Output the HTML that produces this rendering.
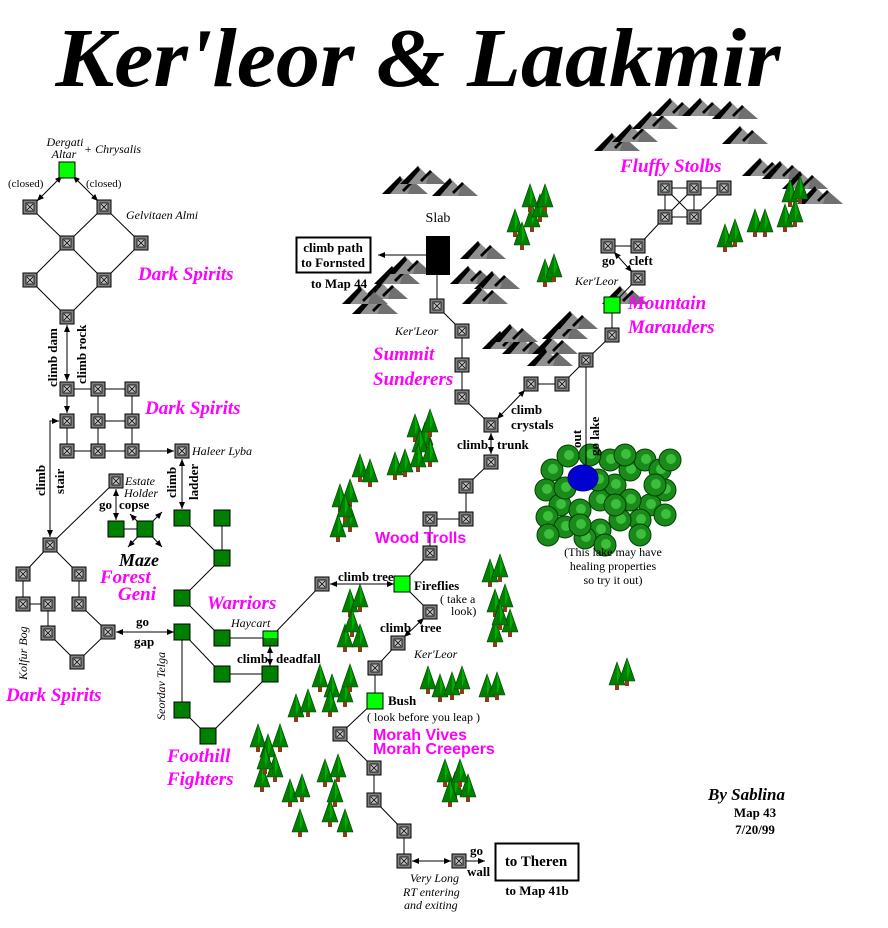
<!DOCTYPE html>
<html><head><meta charset="utf-8"><style>
html,body{margin:0;padding:0;background:#fff;}
svg{display:block;}
text{font-family:"Liberation Serif",serif;}
.b{font-weight:bold;font-size:13px;}
.i{font-style:italic;font-size:12px;}
.p{fill:#ff00ff;font-weight:bold;font-style:italic;font-size:19px;}
.pl{fill:#ff00ff;font-weight:bold;font-size:16px;font-family:"Liberation Sans",sans-serif;}
line,polyline{stroke:#000;stroke-width:1;fill:none;}
</style></head><body>
<svg width="888" height="928" viewBox="0 0 888 928" xmlns="http://www.w3.org/2000/svg">
<defs>
<marker id="a" markerWidth="8" markerHeight="8" refX="7" refY="4" orient="auto-start-reverse" markerUnits="userSpaceOnUse"><path d="M0,1 L7,4 L0,7 z" fill="#000"/></marker>
<g id="n"><rect x="-7" y="-7" width="14" height="14" fill="#808080" stroke="#000"/><rect x="-4" y="-4" width="8" height="8" fill="#c0c0c0" stroke="#000" stroke-width="0.8"/><path d="M-3,-3L3,3M3,-3L-3,3" stroke="#000" stroke-width="0.8"/></g>
<g id="g"><rect x="-8" y="-8" width="16" height="16" fill="#008000" stroke="#000"/></g>
<g id="G"><rect x="-8" y="-8" width="16" height="16" fill="#00ff00" stroke="#000"/></g>
<g id="t"><polygon points="0,-16 8,7 -8,7" fill="#008000" stroke="#004000" stroke-width="0.6"/><polygon points="0,-16 3,-3 0,5" fill="#00b000"/><rect x="-2" y="7" width="4" height="5" fill="#8b3a1a"/></g>
<g id="m"><polygon points="0,-14 18,4 -18,4" fill="#909090"/><polygon points="0,-14 -18,4 -10,4 2,-10" fill="#000"/><polygon points="12,-10 28,4 8,4" fill="#707070"/><polygon points="12,-10 2,0 4,2 14,-8" fill="#000"/></g>
<g id="bu"><circle r="11" fill="#1a8a1a" stroke="#004000"/><circle r="5" cx="1" cy="-1" fill="#3cc03c"/></g>
</defs>

<text x="418" y="86" text-anchor="middle" font-size="84" font-weight="bold" font-style="italic" textLength="725" lengthAdjust="spacingAndGlyphs">Ker'leor &amp; Laakmir</text>

<g>
<use href="#m" x="400" y="190"/><use href="#m" x="418" y="180"/><use href="#m" x="450" y="192"/>
<use href="#m" x="380" y="295"/><use href="#m" x="392" y="280"/><use href="#m" x="405" y="270"/><use href="#m" x="370" y="310"/><use href="#m" x="360" y="300"/>
<use href="#m" x="478" y="255"/><use href="#m" x="468" y="280"/><use href="#m" x="492" y="285"/><use href="#m" x="480" y="300"/>
<use href="#m" x="500" y="345"/><use href="#m" x="520" y="350"/><use href="#m" x="510" y="338"/>
<use href="#m" x="550" y="350"/><use href="#m" x="560" y="335"/><use href="#m" x="570" y="325"/><use href="#m" x="545" y="362"/>
<use href="#m" x="612" y="147"/><use href="#m" x="630" y="138"/><use href="#m" x="650" y="125"/>
<use href="#m" x="670" y="112"/><use href="#m" x="700" y="112"/><use href="#m" x="730" y="115"/>
<use href="#m" x="740" y="140"/>
<use href="#m" x="760" y="172"/><use href="#m" x="780" y="175"/><use href="#m" x="800" y="185"/><use href="#m" x="815" y="200"/>
<use href="#m" x="620" y="300"/>
</g>

<g>
<use href="#t" x="515" y="225"/><use href="#t" x="522" y="238"/><use href="#t" x="532" y="220"/><use href="#t" x="540" y="210"/><use href="#t" x="530" y="200"/><use href="#t" x="545" y="200"/>
<use href="#t" x="545" y="275"/><use href="#t" x="554" y="270"/>
<use href="#t" x="415" y="430"/><use href="#t" x="425" y="438"/><use href="#t" x="430" y="425"/><use href="#t" x="420" y="445"/>
<use href="#t" x="360" y="470"/><use href="#t" x="370" y="475"/><use href="#t" x="395" y="468"/><use href="#t" x="405" y="465"/><use href="#t" x="418" y="460"/><use href="#t" x="430" y="455"/>
<use href="#t" x="340" y="500"/><use href="#t" x="350" y="495"/><use href="#t" x="338" y="530"/><use href="#t" x="350" y="520"/><use href="#t" x="345" y="510"/>
<use href="#t" x="490" y="575"/><use href="#t" x="500" y="570"/><use href="#t" x="495" y="605"/><use href="#t" x="505" y="600"/><use href="#t" x="495" y="635"/><use href="#t" x="510" y="625"/><use href="#t" x="500" y="618"/>
<use href="#t" x="350" y="605"/><use href="#t" x="360" y="600"/><use href="#t" x="345" y="640"/><use href="#t" x="360" y="640"/><use href="#t" x="352" y="625"/>
<use href="#t" x="320" y="680"/><use href="#t" x="332" y="690"/><use href="#t" x="345" y="695"/><use href="#t" x="330" y="705"/><use href="#t" x="350" y="680"/>
<use href="#t" x="296" y="710"/><use href="#t" x="308" y="705"/>
<use href="#t" x="258" y="740"/><use href="#t" x="268" y="750"/><use href="#t" x="280" y="740"/><use href="#t" x="262" y="780"/><use href="#t" x="275" y="770"/><use href="#t" x="290" y="795"/><use href="#t" x="302" y="790"/><use href="#t" x="265" y="762"/>
<use href="#t" x="300" y="825"/><use href="#t" x="325" y="775"/><use href="#t" x="338" y="770"/><use href="#t" x="330" y="815"/><use href="#t" x="345" y="825"/><use href="#t" x="335" y="795"/>
<use href="#t" x="428" y="682"/><use href="#t" x="440" y="690"/><use href="#t" x="452" y="688"/><use href="#t" x="462" y="682"/>
<use href="#t" x="487" y="690"/><use href="#t" x="497" y="688"/>
<use href="#t" x="445" y="775"/><use href="#t" x="455" y="788"/><use href="#t" x="468" y="790"/><use href="#t" x="460" y="775"/><use href="#t" x="450" y="795"/>
<use href="#t" x="617" y="678"/><use href="#t" x="627" y="674"/>
<use href="#t" x="725" y="240"/><use href="#t" x="735" y="235"/><use href="#t" x="755" y="225"/><use href="#t" x="765" y="225"/><use href="#t" x="785" y="220"/><use href="#t" x="795" y="215"/><use href="#t" x="790" y="195"/><use href="#t" x="800" y="192"/>
</g>

<g>
<use href="#bu" x="552" y="470"/><use href="#bu" x="546" y="490"/><use href="#bu" x="560" y="505"/><use href="#bu" x="547" y="517"/><use href="#bu" x="565" y="527"/>
<use href="#bu" x="580" y="510"/><use href="#bu" x="600" y="500"/><use href="#bu" x="615" y="485"/><use href="#bu" x="630" y="470"/><use href="#bu" x="645" y="460"/>
<use href="#bu" x="660" y="470"/><use href="#bu" x="665" y="490"/><use href="#bu" x="650" y="505"/><use href="#bu" x="640" y="520"/><use href="#bu" x="620" y="520"/>
<use href="#bu" x="600" y="530"/><use href="#bu" x="585" y="538"/><use href="#bu" x="568" y="456"/><use href="#bu" x="610" y="460"/><use href="#bu" x="630" y="500"/>
<use href="#bu" x="665" y="515"/><use href="#bu" x="640" y="535"/><use href="#bu" x="605" y="545"/>
<use href="#bu" x="565" y="488"/><use href="#bu" x="598" y="480"/><use href="#bu" x="625" y="455"/><use href="#bu" x="655" y="485"/><use href="#bu" x="615" y="505"/><use href="#bu" x="580" y="525"/><use href="#bu" x="548" y="535"/><use href="#bu" x="670" y="460"/><use href="#bu" x="590" y="455"/>
<ellipse cx="583" cy="478" rx="15" ry="13" fill="#0000d0" stroke="#000080"/>
</g>

<g>
<line x1="62" y1="176" x2="37" y2="201" marker-start="url(#a)" marker-end="url(#a)"/>
<line x1="73" y1="176" x2="98" y2="201" marker-start="url(#a)" marker-end="url(#a)"/>
<line x1="30" y1="207" x2="67" y2="243"/><line x1="104" y1="207" x2="67" y2="243"/><line x1="104" y1="207" x2="141" y2="243"/>
<line x1="67" y1="243" x2="30" y2="280"/><line x1="67" y1="243" x2="104" y2="280"/><line x1="141" y1="243" x2="104" y2="280"/>
<line x1="30" y1="280" x2="67" y2="317"/><line x1="104" y1="280" x2="67" y2="317"/>
<line x1="67" y1="325" x2="67" y2="381" marker-start="url(#a)" marker-end="url(#a)"/>
<line x1="67" y1="389" x2="132" y2="389"/><line x1="67" y1="389" x2="67" y2="413" marker-end="url(#a)"/>
<line x1="98" y1="389" x2="98" y2="451"/><line x1="132" y1="389" x2="132" y2="451"/><line x1="98" y1="421" x2="132" y2="421"/>
<line x1="67" y1="421" x2="67" y2="451"/><line x1="67" y1="451" x2="132" y2="451"/><line x1="132" y1="451" x2="174" y2="451" marker-end="url(#a)"/>
<polyline points="50,537 50,421 59,421" marker-end="url(#a)"/>
<line x1="50" y1="440" x2="50" y2="537" marker-end="url(#a)"/>
<line x1="182" y1="459" x2="182" y2="509" marker-start="url(#a)" marker-end="url(#a)"/>
<line x1="116" y1="481" x2="50" y2="545"/>
<line x1="116" y1="489" x2="116" y2="520" marker-start="url(#a)" marker-end="url(#a)"/>
<line x1="116" y1="529" x2="145" y2="529"/>
<line x1="145" y1="529" x2="130" y2="514" marker-end="url(#a)"/><line x1="145" y1="529" x2="162" y2="512" marker-end="url(#a)"/>
<line x1="145" y1="529" x2="128" y2="547" marker-end="url(#a)"/><line x1="145" y1="529" x2="162" y2="547" marker-end="url(#a)"/>
<line x1="50" y1="545" x2="23" y2="574"/><line x1="50" y1="545" x2="79" y2="574"/><line x1="23" y1="574" x2="23" y2="604"/>
<line x1="23" y1="604" x2="48" y2="604"/><line x1="48" y1="604" x2="48" y2="633"/><line x1="48" y1="633" x2="77" y2="662"/>
<line x1="79" y1="574" x2="79" y2="604"/><line x1="79" y1="604" x2="108" y2="632"/><line x1="108" y1="632" x2="77" y2="662"/>
<line x1="116" y1="632" x2="174" y2="632" marker-start="url(#a)" marker-end="url(#a)"/>
<line x1="182" y1="518" x2="222" y2="558"/><line x1="222" y1="518" x2="222" y2="558"/><line x1="222" y1="558" x2="182" y2="598"/>
<line x1="182" y1="598" x2="222" y2="638"/><line x1="222" y1="638" x2="270" y2="638"/><line x1="182" y1="632" x2="222" y2="674"/>
<line x1="222" y1="674" x2="270" y2="674"/><line x1="182" y1="632" x2="182" y2="710"/><line x1="182" y1="710" x2="208" y2="736"/>
<line x1="208" y1="736" x2="270" y2="674"/>
<line x1="270" y1="646" x2="270" y2="666" marker-start="url(#a)" marker-end="url(#a)"/>
<line x1="270" y1="638" x2="322" y2="584"/>
<line x1="330" y1="584" x2="394" y2="584" marker-start="url(#a)" marker-end="url(#a)"/>
<line x1="402" y1="584" x2="430" y2="612"/>
<line x1="424" y1="618" x2="404" y2="637" marker-start="url(#a)" marker-end="url(#a)"/>
<line x1="398" y1="643" x2="375" y2="668"/><line x1="375" y1="668" x2="375" y2="701"/><line x1="375" y1="701" x2="340" y2="734"/>
<line x1="340" y1="734" x2="374" y2="768"/><line x1="374" y1="768" x2="374" y2="800"/><line x1="374" y1="800" x2="404" y2="831"/>
<line x1="404" y1="831" x2="404" y2="861"/>
<line x1="412" y1="861" x2="451" y2="861" marker-start="url(#a)" marker-end="url(#a)"/>
<line x1="466" y1="861" x2="485" y2="861" marker-end="url(#a)"/>
<line x1="402" y1="584" x2="430" y2="553"/><line x1="430" y1="553" x2="430" y2="519"/><line x1="430" y1="519" x2="466" y2="519"/>
<line x1="466" y1="519" x2="466" y2="486"/><line x1="466" y1="486" x2="491" y2="462"/>
<line x1="491" y1="433" x2="491" y2="454" marker-start="url(#a)" marker-end="url(#a)"/>
<line x1="491" y1="425" x2="462" y2="397"/><line x1="462" y1="397" x2="462" y2="331"/><line x1="462" y1="331" x2="437" y2="306"/>
<line x1="437" y1="306" x2="437" y2="275"/>
<line x1="426" y1="255" x2="378" y2="255" marker-end="url(#a)"/>
<line x1="497" y1="419" x2="525" y2="390" marker-start="url(#a)" marker-end="url(#a)"/>
<line x1="531" y1="384" x2="562" y2="384"/><line x1="562" y1="384" x2="586" y2="360"/><line x1="586" y1="360" x2="612" y2="335"/>
<line x1="586" y1="360" x2="586" y2="465"/>
<line x1="612" y1="335" x2="612" y2="305"/><line x1="612" y1="305" x2="638" y2="278"/>
<line x1="632" y1="272" x2="614" y2="252" marker-start="url(#a)" marker-end="url(#a)"/>
<line x1="608" y1="246" x2="638" y2="246"/><line x1="638" y1="246" x2="665" y2="217"/>
<line x1="665" y1="188" x2="724" y2="188"/><line x1="665" y1="217" x2="694" y2="217"/>
<line x1="665" y1="188" x2="665" y2="217"/><line x1="694" y1="188" x2="694" y2="217"/>
<line x1="665" y1="188" x2="694" y2="217"/><line x1="694" y1="188" x2="665" y2="217"/><line x1="694" y1="217" x2="724" y2="188"/>
</g>

<g>
<use href="#G" x="67" y="170"/>
<use href="#n" x="30" y="207"/><use href="#n" x="104" y="207"/><use href="#n" x="67" y="243"/><use href="#n" x="141" y="243"/>
<use href="#n" x="30" y="280"/><use href="#n" x="104" y="280"/><use href="#n" x="67" y="317"/>
<use href="#n" x="67" y="389"/><use href="#n" x="98" y="389"/><use href="#n" x="132" y="389"/>
<use href="#n" x="67" y="421"/><use href="#n" x="98" y="421"/><use href="#n" x="132" y="421"/>
<use href="#n" x="67" y="451"/><use href="#n" x="98" y="451"/><use href="#n" x="132" y="451"/><use href="#n" x="182" y="451"/>
<use href="#n" x="116" y="481"/>
<use href="#g" x="116" y="529"/><use href="#g" x="145" y="529"/>
<use href="#n" x="50" y="545"/><use href="#n" x="23" y="574"/><use href="#n" x="79" y="574"/>
<use href="#n" x="23" y="604"/><use href="#n" x="48" y="604"/><use href="#n" x="79" y="604"/>
<use href="#n" x="48" y="633"/><use href="#n" x="108" y="632"/><use href="#n" x="77" y="662"/>
<use href="#g" x="182" y="518"/><use href="#g" x="222" y="518"/><use href="#g" x="222" y="558"/><use href="#g" x="182" y="598"/>
<use href="#g" x="182" y="632"/><use href="#g" x="222" y="638"/><use href="#g" x="222" y="674"/><use href="#g" x="182" y="710"/>
<use href="#g" x="208" y="736"/><use href="#g" x="270" y="674"/>
<rect x="263" y="631" width="15" height="15" fill="#008000" stroke="#000"/><rect x="263" y="631" width="15" height="7" fill="#00ff00"/><rect x="263" y="631" width="15" height="15" fill="none" stroke="#000"/>
<use href="#n" x="322" y="584"/><use href="#G" x="402" y="584"/><use href="#n" x="430" y="612"/><use href="#n" x="398" y="643"/>
<use href="#n" x="375" y="668"/><use href="#G" x="375" y="701"/><use href="#n" x="340" y="734"/><use href="#n" x="374" y="768"/>
<use href="#n" x="374" y="800"/><use href="#n" x="404" y="831"/><use href="#n" x="404" y="861"/><use href="#n" x="459" y="861"/>
<use href="#n" x="430" y="553"/><use href="#n" x="430" y="519"/><use href="#n" x="466" y="519"/><use href="#n" x="466" y="486"/>
<use href="#n" x="491" y="462"/><use href="#n" x="491" y="425"/><use href="#n" x="462" y="397"/><use href="#n" x="462" y="365"/>
<use href="#n" x="462" y="331"/><use href="#n" x="437" y="306"/>
<rect x="426" y="236" width="24" height="39" fill="#000"/>
<use href="#n" x="531" y="384"/><use href="#n" x="562" y="384"/><use href="#n" x="586" y="360"/><use href="#n" x="612" y="335"/>
<use href="#G" x="612" y="305"/><use href="#n" x="638" y="278"/><use href="#n" x="608" y="246"/><use href="#n" x="638" y="246"/>
<use href="#n" x="665" y="188"/><use href="#n" x="694" y="188"/><use href="#n" x="724" y="188"/><use href="#n" x="665" y="217"/><use href="#n" x="694" y="217"/>
</g>

<rect x="296.5" y="237.5" width="74" height="35" fill="#fff" stroke="#000" stroke-width="2"/>
<text class="b" x="333" y="252" text-anchor="middle">climb path</text>
<text class="b" x="333" y="267" text-anchor="middle">to Fornsted</text>
<text class="b" x="339" y="288" text-anchor="middle">to Map 44</text>
<text x="438" y="222" text-anchor="middle" font-size="14">Slab</text>
<rect x="495.5" y="843.5" width="83" height="37" fill="#fff" stroke="#000" stroke-width="2"/>
<text x="536" y="866" text-anchor="middle" font-size="15" font-weight="bold">to Theren</text>
<text class="b" x="537" y="895" text-anchor="middle">to Map 41b</text>

<g>
<text class="i" x="65" y="146" text-anchor="middle">Dergati</text>
<text class="i" x="64" y="158" text-anchor="middle">Altar</text>
<text class="i" x="84" y="153">+ Chrysalis</text>
<text x="8" y="187" font-size="11">(closed)</text><text x="86" y="187" font-size="11">(closed)</text>
<text class="i" x="126" y="219">Gelvitaen Almi</text>
<text class="p" x="138" y="280">Dark Spirits</text>
<text class="p" x="145" y="414">Dark Spirits</text>
<text class="p" x="6" y="701">Dark Spirits</text>
<text class="b" transform="translate(57,387) rotate(-90)">climb dam</text>
<text class="b" transform="translate(86,384) rotate(-90)">climb rock</text>
<text class="b" transform="translate(45,496) rotate(-90)">climb</text>
<text class="b" transform="translate(64,494) rotate(-90)">stair</text>
<text class="i" x="192" y="455">Haleer Lyba</text>
<text class="b" transform="translate(176,498) rotate(-90)">climb</text>
<text class="b" transform="translate(198,500) rotate(-90)">ladder</text>
<text class="i" x="125" y="485">Estate</text><text class="i" x="124" y="497">Holder</text>
<text class="b" x="99" y="509">go</text><text class="b" x="119" y="509">copse</text>
<text x="119" y="566" font-size="18" font-weight="bold" font-style="italic">Maze</text>
<text class="p" x="100" y="583">Forest</text>
<text class="p" x="118" y="600">Geni</text>
<text class="i" transform="translate(27,680) rotate(-90)">Kolfur Bog</text>
<text class="b" x="136" y="626">go</text><text class="b" x="134" y="646">gap</text>
<text class="i" transform="translate(165,720) rotate(-90)">Seordav Telga</text>
<text class="p" x="207" y="609">Warriors</text>
<text class="i" x="231" y="627">Haycart</text>
<text class="b" x="237" y="663">climb</text><text class="b" x="276" y="663">deadfall</text>
<text class="p" x="167" y="762">Foothill</text>
<text class="p" x="167" y="785">Fighters</text>
<text class="b" x="338" y="581">climb tree</text>
<text class="b" x="414" y="590">Fireflies</text>
<text x="440" y="603" font-size="12">( take a</text><text x="451" y="615" font-size="12">look)</text>
<text class="b" x="380" y="632">climb</text><text class="b" x="420" y="632">tree</text>
<text class="i" x="414" y="658">Ker'Leor</text>
<text class="b" x="388" y="705">Bush</text>
<text x="367" y="721" font-size="12">( look before you leap )</text>
<text class="pl" x="373" y="740">Morah Vives</text>
<text class="pl" x="373" y="754">Morah Creepers</text>
<text class="i" x="410" y="882">Very Long</text>
<text class="i" x="403" y="896">RT entering</text>
<text class="i" x="404" y="909">and exiting</text>
<text class="b" x="470" y="855">go</text><text class="b" x="467" y="876">wall</text>
<text class="pl" x="375" y="543">Wood Trolls</text>
<text class="b" x="457" y="449">climb</text><text class="b" x="497" y="449">trunk</text>
<text class="b" x="511" y="414">climb</text><text class="b" x="511" y="429">crystals</text>
<text class="i" x="395" y="335">Ker'Leor</text>
<text class="p" x="373" y="360">Summit</text>
<text class="p" x="373" y="385">Sunderers</text>
<text class="b" transform="translate(581,448) rotate(-90)">out</text>
<text class="b" transform="translate(599,456) rotate(-90)">go lake</text>
<text x="613" y="556" font-size="12" text-anchor="middle">(This lake may have</text>
<text x="613" y="570" font-size="12" text-anchor="middle">healing properties</text>
<text x="613" y="584" font-size="12" text-anchor="middle">so try it out)</text>
<text class="i" x="575" y="285">Ker'Leor</text>
<text class="b" x="602" y="265">go</text><text class="b" x="629" y="265">cleft</text>
<text class="p" x="628" y="309">Mountain</text>
<text class="p" x="628" y="333">Marauders</text>
<text class="p" x="620" y="172">Fluffy Stolbs</text>
<text x="708" y="800" font-size="17" font-weight="bold" font-style="italic">By Sablina</text>
<text class="b" x="755" y="817" text-anchor="middle" font-size="12">Map 43</text>
<text class="b" x="755" y="834" text-anchor="middle" font-size="12">7/20/99</text>
</g>
</svg>
</body></html>
